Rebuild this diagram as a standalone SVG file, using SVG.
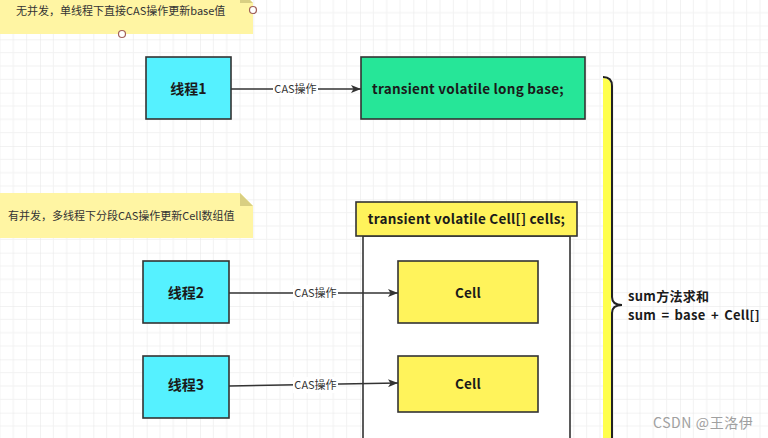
<svg xmlns="http://www.w3.org/2000/svg" width="768" height="438" viewBox="0 0 768 438">
<style>
text{font-family:"Noto Sans CJK SC","Liberation Sans",sans-serif;fill:#1a1a1a}
.b{font-weight:bold;font-size:13.5px;letter-spacing:0.25px}
.s{font-weight:bold;font-size:13px;letter-spacing:0.3px}
.t{font-weight:bold;font-size:14px}
.n{font-size:11px;fill:#333}
.lbl{font-size:11px;fill:#333}
.box{stroke:#333;stroke-width:1.6}
.th{fill:#55F1FF}
.cell{fill:#FFF35B}
.edge{stroke:#333;stroke-width:1.5;fill:none}
</style>
<defs>
<pattern id="grid" patternUnits="userSpaceOnUse" x="40" y="39.33" width="53.333" height="53.333">
<path d="M13.333,0V53.333M26.667,0V53.333M40,0V53.333M0,13.333H53.333M0,26.667H53.333M0,40H53.333" stroke="#f2f2f2" stroke-width="1" fill="none"/>
<path d="M0,0V53.333M0,0H53.333" stroke="#e6e6e6" stroke-width="1" fill="none"/>
</pattern>
<marker id="arr" viewBox="0 0 10 8" refX="10" refY="4" markerWidth="10" markerHeight="8" markerUnits="userSpaceOnUse" orient="auto">
<path d="M0,0L10,4L0,8L2.5,4Z" fill="#333"/>
</marker>
</defs>
<rect width="768" height="438" fill="#fff"/>
<rect width="768" height="438" fill="url(#grid)"/>

<g id="note1">
<path d="M0,-10H240L253,3V34H0Z" fill="#FFF5A3"/>
<path d="M240,-10V3H253Z" fill="#D9CF82"/>
<text class="n" x="16" y="15">无并发，单线程下直接CAS操作更新base值</text>
<circle cx="253" cy="10" r="3.5" fill="#fff" stroke="#A0605A" stroke-width="1.2"/>
<circle cx="122" cy="34" r="3.5" fill="#fff" stroke="#A0605A" stroke-width="1.2"/>
</g>

<g id="note2">
<path d="M0,193H240L253,206V238H0Z" fill="#FFF5A3"/>
<path d="M240,193V206H253Z" fill="#D9CF82"/>
<text class="n" x="8" y="220">有并发，多线程下分段CAS操作更新Cell数组值</text>
</g>

<g id="cells-container">
<rect class="box" x="363" y="236" width="207" height="215" fill="#fff"/>
<rect class="box cell" x="356" y="202" width="221" height="34"/>
<text class="b" x="466.5" y="223.5" text-anchor="middle">transient volatile Cell[] cells;</text>
</g>

<g id="thread1">
<rect class="box th" x="146" y="57" width="85" height="62"/>
<text class="t" x="188.5" y="93.5" text-anchor="middle">线程1</text>
</g>
<g id="base">
<rect class="box" x="361" y="57" width="224" height="62" fill="#26E698"/>
<text class="b" x="468" y="93.5" text-anchor="middle">transient volatile long base;</text>
</g>
<g id="thread2">
<rect class="box th" x="143" y="261" width="86" height="62"/>
<text class="t" x="186" y="297.5" text-anchor="middle">线程2</text>
</g>
<g id="thread3">
<rect class="box th" x="143" y="356" width="86" height="62"/>
<text class="t" x="186" y="389.5" text-anchor="middle">线程3</text>
</g>
<g id="cell1">
<rect class="box cell" x="398" y="261" width="140" height="62"/>
<text class="b" x="468" y="297.5" text-anchor="middle">Cell</text>
</g>
<g id="cell2">
<rect class="box cell" x="398" y="356" width="140" height="56"/>
<text class="b" x="468" y="388.5" text-anchor="middle">Cell</text>
</g>

<g id="sum-brace">
<path d="M603,78Q611,78 611,86V438H603Z" fill="#FFFF4D"/>
<path d="M603,77Q612,77 612,86V297Q612,305 622,305Q612,305 612,313V440" fill="none" stroke="#222" stroke-width="2"/>
<text class="s" x="628" y="301">sum方法求和</text>
<text class="s" x="628" y="320" style="word-spacing:2px">sum = base + Cell[]</text>
</g>

<g id="connectors">
<path class="edge" d="M231,89H361" marker-end="url(#arr)"/>
<rect x="273" y="81" width="45" height="16" fill="#fff"/>
<text class="lbl" x="295.5" y="93" text-anchor="middle">CAS操作</text>
<path class="edge" d="M229,293H398" marker-end="url(#arr)"/>
<rect x="293" y="285" width="45" height="16" fill="#fff"/>
<text class="lbl" x="315.5" y="297" text-anchor="middle">CAS操作</text>
<path class="edge" d="M229,386L398,383" marker-end="url(#arr)"/>
<rect x="293" y="377" width="45" height="16" fill="#fff"/>
<text class="lbl" x="315.5" y="389" text-anchor="middle">CAS操作</text>
</g>

<text x="653" y="428" style="font-size:14px;letter-spacing:0.6px;fill:#a0a0a0">CSDN @王洛伊</text>
</svg>
